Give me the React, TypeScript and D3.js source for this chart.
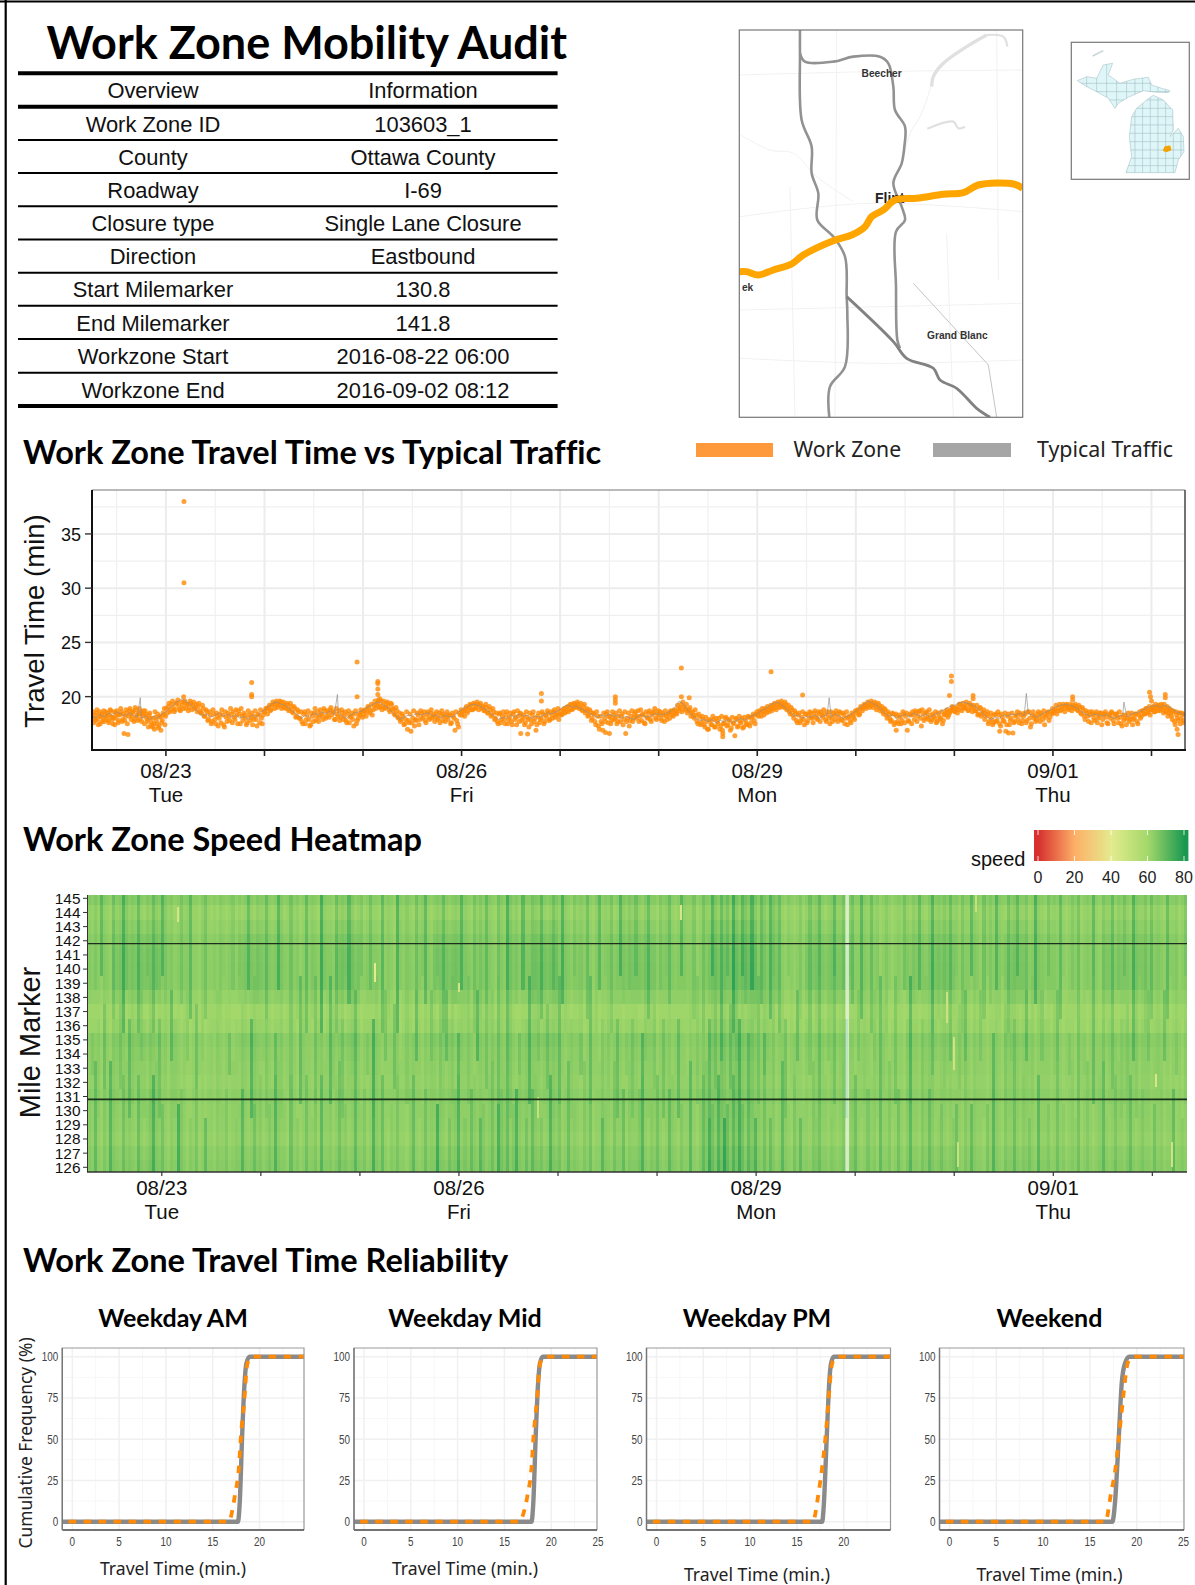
import React from "react";
import * as d3 from "d3";

// ---------- Overview table ----------
const overviewLabels = ["Overview", "Work Zone ID", "County", "Roadway", "Closure type", "Direction", "Start Milemarker", "End Milemarker", "Workzone Start", "Workzone End"];
const overviewValues = ["Information", "103603_1", "Ottawa County", "I-69", "Single Lane Closure", "Eastbound", "130.8", "141.8", "2016-08-22 06:00", "2016-09-02 08:12"];

// ---------- Travel time (days are counted from 08/23 00:00) ----------
const dayTicks = [0, 1, 2, 3, 4, 5, 6, 7, 8, 9, 10];
const labelledDays = [{ t: 0, a: "08/23", b: "Tue" }, { t: 3, a: "08/26", b: "Fri" }, { t: 6, a: "08/29", b: "Mon" }, { t: 9, a: "09/01", b: "Thu" }];
const travelMajor = [20, 25, 30, 35];
const travelMinor = [17.5, 22.5, 27.5, 32.5, 37.5];

// typical traffic, one reading per hour from 08/22 06:00
const typicalHourly = [
  18.2, 18.0, 18.4, 18.1, 18.5, 18.3, 18.6, 18.4, 18.2, 18.5, 18.3, 18.1, 18.0, 18.2, 17.9, 18.2, 18.0, 18.4,
  18.6, 19.0, 19.3, 19.6, 19.8, 19.5, 19.3, 18.9, 18.5, 18.2, 18.4, 18.1, 18.3, 18.5, 18.2, 18.4, 18.1, 18.3, 18.0, 18.2, 17.9, 18.3, 18.1, 18.5,
  18.8, 19.1, 19.4, 19.5, 19.3, 19.2, 18.9, 18.6, 18.3, 18.0, 18.3, 18.1, 18.5, 18.3, 18.6, 18.4, 18.7, 18.3, 18.5, 18.2, 18.0, 18.3, 18.5, 18.6,
  18.7, 19.0, 19.2, 19.4, 19.5, 19.2, 19.0, 18.6, 18.2, 17.9, 18.1, 18.3, 18.2, 18.5, 18.3, 18.4, 18.5, 18.2, 18.3, 18.0, 18.3, 18.1, 18.2, 18.5,
  18.8, 19.0, 19.2, 19.3, 19.2, 19.0, 18.8, 18.5, 18.2, 17.9, 18.1, 18.0, 18.3, 18.1, 18.4, 18.2, 18.3, 18.0, 18.2, 18.1, 18.3, 18.5, 18.4, 18.6,
  18.8, 19.1, 19.2, 19.0, 19.1, 18.9, 18.7, 18.5, 18.3, 18.1, 18.3, 18.2, 18.4, 18.2, 18.3, 18.0, 18.2, 18.0, 17.9, 18.2, 18.3, 18.1, 18.2, 18.4,
  18.4, 18.3, 18.5, 18.7, 19.0, 19.6, 19.3, 18.8, 18.3, 18.0, 17.8, 17.9, 17.7, 17.9, 17.6, 17.8, 17.7, 17.9, 17.6, 17.8, 18.0, 17.8, 18.1, 18.3,
  18.4, 18.7, 18.9, 19.2, 19.4, 19.5, 19.2, 18.9, 18.5, 18.2, 18.3, 18.0, 18.2, 18.1, 18.3, 18.0, 18.2, 18.3, 18.1, 18.4, 18.2, 18.0, 18.2, 18.4,
  18.7, 19.0, 19.3, 19.6, 19.4, 19.2, 18.9, 18.5, 18.2, 18.3, 18.0, 18.2, 18.4, 18.1, 18.5, 18.3, 18.2, 18.4, 18.1, 18.3, 18.5, 18.7, 18.9, 19.1,
  19.2, 19.4, 19.5, 19.4, 19.3, 19.1, 18.8, 18.4, 18.1, 17.9, 18.1, 18.0, 18.3, 18.2, 18.4, 18.3, 18.5, 18.2, 18.4, 18.3, 18.1, 18.3, 18.5, 18.7,
  18.9, 19.1, 19.2, 19.3, 19.2, 19.1, 18.9, 18.6, 18.4, 18.2, 18.4, 18.3, 18.2, 18.4, 18.1, 18.0, 18.2, 18.3, 18.1, 18.4, 18.5, 18.6, 18.8, 19.0,
  19.1, 19.2, 19.0, 19.2, 19.1, 18.9, 18.6, 18.5, 18.3,
];
const typicalSpikes = [[-0.26, 19.9], [1.74, 20.2], [6.73, 19.9], [8.73, 20.3], [9.72, 19.5]];

// work zone readings, grouped by calendar day
const wzAug22 = [18.1, 17.6, 18.3, 18.5, 17.9, 18.2, 17.5, 18.4, 18.0, 17.7, 18.6, 18.2, 17.8, 18.3, 18.7, 17.9, 18.1, 17.4, 18.5, 18.3, 17.8, 18.4, 18.6, 17.9, 16.6, 18.2, 18.5, 16.5, 18.7, 18.4, 18.2, 18.6, 17.9, 18.8, 18.3, 18.5, 17.9, 18.6, 18.2, 18.4, 18.7, 18.1, 17.7, 18.3, 18.0, 17.6, 17.2, 17.0, 18.1, 17.5, 17.1, 18.2, 16.9, 17.8, 18.3, 17.4];
const wzAug23 = [18.9, 19.1, 18.6, 19.3, 19.0, 18.8, 19.4, 19.1, 18.7, 19.2, 19.5, 18.9, 19.3, 19.0, 19.4, 19.2, 18.9, 19.3, 19.1, 18.7, 18.5, 18.9, 18.2, 18.6, 17.9, 18.3, 17.7, 18.4, 17.5, 18.2, 18.0, 17.6, 18.3, 17.2, 18.1, 18.5, 17.8, 18.4, 18.6, 17.9, 18.3, 18.7, 17.5, 18.2, 18.5, 18.0, 17.6, 18.3, 18.1, 17.4, 18.2, 17.9, 18.4, 17.6, 18.0, 18.3];
const wzAug24 = [18.6, 18.9, 19.0, 18.7, 19.2, 19.3, 19.4, 19.0, 19.3, 19.5, 19.1, 19.3, 18.9, 19.2, 18.8, 19.1, 18.5, 18.9, 18.2, 18.6, 18.0, 17.7, 18.4, 17.5, 18.3, 17.9, 17.4, 18.2, 18.5, 17.8, 18.6, 18.1, 18.4, 17.9, 18.7, 18.2, 18.5, 18.8, 18.3, 18.6, 17.9, 18.4, 18.7, 18.1, 18.5, 18.2, 17.8, 18.4, 17.6, 18.2, 17.9, 18.4, 17.5, 18.0, 18.3, 18.6];
const wzAug25 = [18.4, 18.8, 18.6, 19.0, 18.7, 18.3, 19.2, 18.9, 19.4, 19.0, 19.6, 19.2, 18.9, 19.4, 19.1, 18.6, 19.3, 18.8, 18.3, 18.7, 18.0, 17.7, 18.4, 17.4, 17.9, 17.0, 17.6, 16.8, 18.0, 17.3, 17.8, 18.3, 17.9, 18.5, 18.2, 17.8, 18.4, 18.1, 18.5, 18.0, 18.4, 18.2, 17.9, 18.5, 18.3, 17.8, 18.4, 18.1, 17.9, 18.3, 17.6, 18.2, 16.9, 17.8, 17.2, 18.3];
const wzAug26 = [18.3, 18.7, 18.9, 18.5, 19.0, 19.2, 18.8, 19.3, 19.0, 19.3, 19.2, 18.9, 19.1, 18.7, 19.0, 18.5, 18.8, 18.3, 18.6, 18.0, 17.7, 18.4, 17.6, 18.2, 17.9, 18.3, 17.5, 18.1, 17.7, 18.4, 17.9, 17.4, 18.2, 18.5, 17.8, 18.3, 17.6, 18.1, 17.2, 17.9, 18.3, 17.7, 16.9, 18.2, 17.6, 18.0, 18.4, 17.7, 18.1, 18.5, 17.9, 18.3, 18.6, 18.1, 18.5, 17.9];
const wzAug27 = [18.7, 18.4, 18.9, 18.6, 19.1, 18.8, 19.2, 18.9, 19.3, 19.1, 19.3, 19.0, 18.8, 19.1, 18.5, 18.9, 18.3, 18.6, 18.0, 18.4, 17.4, 18.2, 17.0, 17.7, 16.9, 18.0, 18.4, 17.6, 18.1, 17.8, 18.3, 18.0, 17.5, 18.2, 17.7, 18.4, 17.9, 16.6, 18.0, 17.3, 18.2, 17.7, 18.4, 18.0, 18.7, 18.2, 17.8, 18.3, 17.5, 18.1, 18.5, 17.9, 18.3, 18.6, 18.0, 18.4];
const wzAug28 = [18.3, 18.0, 18.5, 17.7, 18.2, 18.4, 18.0, 18.6, 18.2, 18.7, 18.4, 18.9, 19.0, 18.6, 19.1, 18.9, 18.5, 18.8, 18.2, 18.6, 18.0, 18.3, 17.5, 18.1, 17.6, 17.9, 17.2, 17.7, 17.0, 17.8, 17.4, 17.9, 17.2, 17.7, 18.0, 17.3, 16.9, 17.6, 18.1, 17.4, 17.8, 17.1, 17.6, 16.4, 17.9, 17.3, 17.7, 18.0, 17.2, 17.8, 17.4, 18.1, 17.6, 18.2, 17.8, 18.3];
const wzAug29 = [18.4, 18.7, 18.2, 18.6, 18.9, 18.5, 18.8, 19.0, 18.7, 19.2, 19.0, 19.3, 19.1, 19.4, 19.2, 19.0, 19.3, 18.9, 18.6, 19.0, 18.3, 18.7, 17.8, 18.3, 17.6, 18.1, 17.9, 18.4, 17.6, 18.2, 18.5, 18.0, 18.5, 18.2, 17.9, 18.4, 18.6, 18.1, 18.4, 17.7, 18.3, 17.5, 18.1, 18.5, 17.9, 18.4, 18.1, 18.5, 17.8, 18.3, 18.0, 17.4, 18.2, 17.6, 18.3, 17.9];
const wzAug30 = [18.5, 18.8, 18.4, 18.9, 19.0, 19.2, 19.1, 19.3, 19.2, 19.4, 19.2, 19.3, 19.0, 19.2, 18.9, 18.6, 18.9, 18.3, 18.6, 18.0, 17.8, 18.4, 17.6, 18.2, 17.5, 18.1, 17.8, 18.4, 18.2, 16.9, 17.7, 18.3, 18.6, 17.9, 18.5, 18.2, 18.7, 17.3, 18.4, 18.0, 18.6, 17.9, 18.3, 17.9, 18.2, 18.6, 17.7, 18.2, 18.0, 17.5, 18.3, 18.6, 18.1, 18.5, 18.8, 19.0];
const wzAug31 = [18.6, 19.0, 18.8, 19.3, 18.7, 19.1, 18.9, 19.2, 18.8, 19.2, 18.6, 19.0, 18.7, 18.3, 18.9, 18.2, 18.6, 17.9, 18.4, 17.5, 18.2, 17.9, 17.6, 18.4, 17.8, 18.3, 17.3, 18.1, 17.7, 16.8, 18.2, 17.4, 18.0, 16.65, 17.7, 18.3, 17.9, 18.5, 17.5, 18.2, 18.4, 17.8, 18.6, 17.2, 18.3, 18.0, 17.7, 18.4, 18.1, 18.5, 17.9, 17.4, 18.3, 18.6, 18.1, 18.4];
const wzSep01 = [18.5, 18.8, 18.4, 19.0, 18.7, 19.1, 18.9, 19.2, 19.0, 18.8, 19.1, 19.2, 18.9, 19.1, 18.7, 19.0, 18.4, 18.8, 17.9, 18.5, 17.7, 18.3, 18.6, 18.0, 18.4, 17.6, 18.2, 18.5, 17.9, 18.4, 18.1, 17.5, 18.3, 18.6, 17.8, 18.2, 18.4, 17.6, 18.1, 17.3, 17.8, 18.3, 18.0, 17.7, 18.2, 17.4, 18.0, 18.4, 17.5, 18.6, 18.2, 18.7, 18.4, 18.9, 18.6, 18.3];
const wzSep02 = [18.8, 19.1, 18.6, 19.0, 18.7, 19.2, 18.9, 19.1, 18.5, 19.0, 18.7, 18.2, 18.9, 18.4, 17.9, 18.6, 17.4, 18.3, 17.8, 18.5, 18.0, 18.4, 17.6];
// the second half-hourly reading of each day, staggered by a quarter hour
const wzLateAug22 = [18.6, 18.0, 17.8, 18.8, 17.4, 18.6, 18.2, 17.7, 18.7, 18.3, 17.9, 18.5, 17.6, 18.8, 18.1, 17.5, 18.6, 18.0, 18.7, 17.6, 18.3, 18.9, 17.7, 18.4, 17.8, 18.8, 17.5, 18.2, 18.9, 17.9, 18.6, 17.7, 19.0, 18.2, 17.8, 18.9, 18.4, 17.7, 18.7, 17.5, 18.4, 17.9, 17.2, 18.5, 17.3, 18.0, 17.5, 18.6, 17.8, 18.4, 17.3, 18.1, 17.6, 18.5, 18.9, 18.2];
const wzLateAug23 = [18.5, 19.4, 18.8, 19.6, 18.6, 19.4, 19.7, 18.8, 19.5, 18.9, 19.6, 19.3, 18.7, 19.6, 18.8, 19.5, 19.0, 18.6, 19.4, 18.5, 19.2, 18.2, 18.8, 17.8, 18.6, 17.5, 18.8, 17.9, 18.5, 17.3, 18.4, 18.8, 17.4, 18.6, 17.7, 18.2, 18.9, 17.6, 18.1, 18.8, 17.5, 18.4, 18.9, 17.8, 18.3, 17.4, 18.7, 17.8, 18.5, 17.9, 18.7, 17.3, 18.3, 18.8, 17.5, 18.6];
const wzLateAug24 = [18.9, 18.4, 19.2, 18.8, 19.5, 18.9, 19.6, 19.2, 19.6, 18.9, 19.5, 19.0, 19.4, 18.7, 19.4, 18.6, 19.1, 18.1, 18.8, 18.0, 18.6, 17.5, 18.6, 17.9, 18.7, 17.3, 18.5, 17.7, 18.9, 18.2, 17.7, 18.8, 18.3, 18.9, 18.0, 18.7, 18.1, 19.0, 18.6, 17.9, 18.9, 18.2, 17.8, 18.8, 17.9, 18.6, 17.6, 18.7, 18.1, 18.5, 17.3, 18.7, 17.8, 18.4, 18.8, 18.1];
const wzLateAug25 = [18.7, 18.2, 19.1, 18.5, 19.3, 18.8, 19.6, 19.2, 19.7, 19.1, 18.8, 19.6, 19.0, 19.5, 18.8, 19.4, 18.9, 18.4, 19.0, 18.1, 18.5, 17.9, 18.2, 17.5, 18.6, 17.8, 18.4, 17.6, 18.7, 17.9, 18.5, 17.4, 18.7, 18.0, 18.6, 17.6, 18.6, 17.9, 18.8, 18.2, 17.7, 18.6, 18.0, 17.6, 18.7, 18.2, 17.7, 18.6, 18.3, 17.5, 18.5, 18.0, 18.6, 17.5, 18.5, 18.8];
const wzLateAug26 = [18.6, 18.2, 19.1, 18.7, 19.3, 18.8, 19.4, 18.9, 19.5, 18.8, 19.4, 19.0, 18.7, 19.3, 18.5, 19.1, 18.2, 18.9, 17.9, 18.5, 17.5, 18.5, 17.9, 18.6, 17.5, 18.6, 17.9, 18.5, 17.4, 18.6, 18.1, 18.7, 17.7, 18.4, 18.0, 17.4, 18.6, 17.9, 18.5, 17.5, 18.6, 18.0, 17.4, 18.5, 17.9, 18.6, 17.5, 18.3, 18.7, 17.8, 18.6, 18.0, 18.8, 18.3, 18.9, 18.3];
const wzLateAug27 = [18.3, 18.8, 18.5, 19.0, 18.6, 19.3, 18.8, 19.4, 19.0, 19.5, 18.9, 19.4, 18.7, 19.3, 18.7, 18.2, 18.8, 17.8, 18.5, 17.7, 18.6, 17.3, 18.2, 17.5, 18.5, 17.7, 18.6, 18.2, 17.5, 18.6, 17.9, 18.5, 17.7, 18.7, 18.2, 17.4, 18.6, 17.7, 18.5, 17.8, 18.7, 18.0, 18.6, 18.2, 17.7, 18.8, 18.4, 17.6, 18.6, 18.0, 18.7, 17.7, 18.5, 18.9, 17.9, 18.7];
const wzLateAug28 = [18.6, 17.8, 18.3, 18.7, 17.9, 18.5, 18.7, 18.3, 18.8, 18.5, 19.2, 18.7, 19.3, 19.5, 18.8, 19.3, 18.7, 19.0, 18.5, 18.2, 18.8, 17.7, 18.4, 17.4, 18.2, 17.4, 18.1, 17.0, 17.9, 17.4, 18.2, 17.2, 18.0, 17.5, 17.0, 18.2, 17.5, 18.0, 17.3, 17.9, 16.9, 18.1, 17.5, 18.0, 17.2, 18.2, 17.6, 17.1, 18.1, 17.5, 18.2, 17.3, 18.0, 18.4, 17.5, 18.6];
const wzLateAug29 = [18.2, 18.6, 18.9, 18.3, 18.7, 19.1, 18.6, 19.2, 18.9, 19.4, 18.8, 19.5, 19.0, 19.6, 19.1, 19.5, 18.8, 19.2, 18.4, 18.8, 18.0, 18.5, 17.6, 18.5, 17.8, 18.6, 17.4, 18.4, 17.8, 18.6, 18.1, 17.6, 18.7, 18.0, 18.6, 17.7, 18.3, 18.8, 17.9, 18.6, 18.0, 18.6, 17.7, 18.3, 18.7, 17.7, 18.6, 17.9, 18.5, 17.5, 18.6, 18.1, 17.8, 18.5, 18.1, 18.7];
const wzLateAug30 = [18.7, 18.3, 19.1, 18.7, 19.3, 18.9, 19.5, 19.0, 19.6, 19.0, 19.5, 18.8, 19.4, 18.7, 19.1, 18.4, 18.8, 18.0, 18.4, 17.7, 18.5, 17.4, 18.4, 17.7, 18.3, 17.5, 18.6, 17.6, 18.5, 17.8, 18.4, 17.5, 18.3, 18.7, 17.7, 18.6, 18.0, 18.8, 17.8, 18.5, 18.1, 18.8, 17.7, 18.4, 18.0, 17.6, 18.5, 17.9, 18.6, 17.8, 18.4, 18.8, 18.3, 18.7, 19.1, 18.7];
const wzLateAug31 = [18.9, 18.5, 19.3, 18.9, 19.4, 19.0, 19.5, 18.7, 19.4, 19.0, 19.2, 18.7, 19.2, 18.4, 19.0, 18.4, 18.8, 18.2, 18.6, 17.7, 18.5, 17.4, 18.3, 17.7, 18.6, 17.5, 18.4, 17.8, 18.5, 17.4, 18.4, 17.8, 18.5, 17.6, 18.2, 18.6, 17.6, 18.3, 17.8, 18.5, 17.6, 18.6, 18.0, 17.5, 18.6, 18.2, 17.9, 18.6, 17.7, 18.3, 18.7, 18.1, 18.5, 17.8, 18.6, 18.9];
const wzLateSep01 = [18.7, 19.2, 18.7, 19.3, 18.8, 19.3, 18.6, 19.3, 18.9, 19.3, 18.7, 19.0, 19.3, 18.8, 19.2, 18.5, 19.0, 18.2, 18.7, 18.2, 18.6, 17.6, 18.4, 17.8, 18.6, 18.0, 18.5, 17.4, 18.3, 18.6, 17.6, 18.4, 18.0, 18.5, 17.5, 18.4, 18.0, 18.6, 17.5, 18.3, 18.0, 17.4, 18.5, 17.9, 18.5, 17.9, 18.4, 17.7, 18.3, 18.0, 18.7, 18.4, 18.9, 18.5, 19.1, 18.8];
const wzLateSep02 = [19.0, 18.6, 19.3, 18.9, 19.2, 18.7, 19.3, 18.8, 19.3, 18.6, 19.1, 18.5, 18.8, 18.2, 18.7, 17.7, 18.6, 18.0, 18.5, 17.5, 18.5, 17.8, 18.3];
const workZoneDays = [wzAug22, wzAug23, wzAug24, wzAug25, wzAug26, wzAug27, wzAug28, wzAug29, wzAug30, wzAug31, wzSep01, wzSep02];
const workZoneLateDays = [wzLateAug22, wzLateAug23, wzLateAug24, wzLateAug25, wzLateAug26, wzLateAug27, wzLateAug28, wzLateAug29, wzLateAug30, wzLateAug31, wzLateSep01, wzLateSep02];
const workZoneDayStart = [-0.75, 0, 1, 2, 3, 4, 5, 6, 7, 8, 9, 10];
const workZoneDayEnd = [0, 1, 2, 3, 4, 5, 6, 7, 8, 9, 10, 10.34];
const workZoneOutliers = [
  [0.183, 38], [0.183, 30.5], [0.87, 21.3], [0.87, 20.2], [0.87, 20.0], [0.18, 20.0], [1.94, 23.2], [1.94, 20.0], [2.15, 21.4], [2.15, 21.2], [2.15, 20.7], [2.15, 20.2], [2.17, 19.8],
  [3.81, 20.3], [3.81, 19.6], [4.56, 20.0], [4.56, 19.7], [4.56, 19.4], [5.23, 22.65], [5.23, 20.0], [5.31, 19.9], [6.14, 22.3], [6.46, 20.15], [7.97, 21.9], [7.97, 21.4], [7.95, 20.1],
  [8.19, 20.1], [8.19, 19.8], [9.2, 20.0], [9.2, 19.7], [9.98, 20.4], [9.99, 20.0], [10.0, 19.6], [10.14, 20.2], [10.14, 19.9], [10.26, 17.0], [10.27, 16.5], [8.55, 16.65], [8.46, 16.8], [7.41, 16.9],
  [5.65, 16.3], [5.65, 16.6], [3.67, 16.55], [3.6, 16.6], [4.5, 16.6], [4.46, 16.7],
];

// ---------- Heatmap ----------
const mileMarkers = [145, 144, 143, 142, 141, 140, 139, 138, 137, 136, 135, 134, 133, 132, 131, 130, 129, 128, 127, 126];
const mileOffset = [1.5, -0.5, 0, 1, 1, 1, 1, 0, -1.5, -1, 1, 0.5, 0.5, 0, 1, 0.5, 0.5, 0, 1, 1.5];
const mileNightWeight = [0.25, 0.1, 0.45, 0.75, 0.9, 1, 1, 0.55, 0.1, 0.3, 0.6, 0.4, 0.2, 0.25, 0.3, 0.3, 0.15, 0.1, 0.25, 0.35];
const nightDarkening = [1, 5, 7, 2, 0, 2, 6, 4, 1, 3, 7, 3, 0, 2, 7, 3, 1, 4, 8, 3, 1, 4, 6, 3, 1, 7, 8, 3, 1, 5, 5, 1, 0, 4, 6, 2, 1, 6, 3, 1, 1, 5, 5, 2, 1];
// mile 145 to 138
const speedUpperMiles = [
  63, 62, 64, 62, 69, 63, 62, 61, 66, 62, 63, 71, 64, 62, 63, 62, 68, 62, 61, 63, 62, 67, 63, 62, 70, 64, 62, 63, 61, 62, 65, 62, 63, 69, 62, 62, 61, 63, 66, 62,
  61, 62, 61, 63, 62, 61, 62, 64, 61, 62, 61, 62, 68, 62, 61, 63, 62, 62, 67, 62, 61, 62, 70, 63, 61, 62, 66, 62, 63, 61, 62, 68, 62, 63, 62, 61, 72, 63, 62, 62,
  61, 66, 62, 63, 62, 69, 63, 61, 62, 64, 61, 62, 66, 62, 62, 61, 68, 62, 63, 62, 61, 71, 63, 62, 64, 62, 61, 66, 62, 63, 69, 62, 61, 62, 63, 62, 67, 62, 61, 62,
  63, 62, 70, 63, 62, 61, 65, 62, 64, 62, 68, 63, 62, 61, 66, 63, 62, 72, 64, 62, 63, 61, 69, 62, 62, 65, 63, 62, 68, 62, 61, 62, 66, 63, 62, 71, 63, 62, 61, 64,
  62, 63, 62, 67, 62, 61, 63, 69, 62, 63, 62, 65, 61, 62, 70, 63, 62, 64, 62, 66, 62, 61, 63, 68, 62, 62, 61, 64, 62, 63, 67, 62, 61, 62, 69, 63, 62, 62, 65, 61,
  62, 66, 63, 62, 70, 64, 62, 68, 63, 66, 62, 72, 64, 62, 69, 65, 63, 71, 64, 62, 68, 64, 62, 70, 65, 63, 67, 62, 61, 63, 62, 61, 62, 64, 61, 62, 66, 62, 63, 68,
  62, 61, 62, 63, 69, 62, 62, 65, 61, 63, 66, 62, 62, 70, 63, 62, 67, 62, 63, 61, 62, 64, 62, 61, 62, 63, 62, 66, 62, 61, 63, 62, 68, 62, 61, 63, 70, 62, 63, 62,
  64, 62, 67, 62, 63, 61, 65, 62, 62, 69, 63, 62, 61, 66, 62, 64, 62, 70, 63, 62, 61, 66, 62, 63, 68, 62, 62, 64, 61, 62, 71, 63, 62, 61, 65, 62, 63, 62, 68, 62,
  61, 62, 64, 62, 66, 61, 62, 63, 62, 69, 62, 61, 64, 62, 62, 67, 61, 63, 62, 65, 62, 61, 70, 63, 62, 62, 64, 61, 66, 62, 63, 62, 61, 68, 62, 62, 63, 61, 62, 65,
];
// mile 137 to 132
const speedMiddleMiles = [
  62, 64, 62, 63, 61, 67, 62, 61, 63, 62, 65, 62, 61, 68, 63, 62, 62, 64, 62, 61, 63, 62, 61, 66, 62, 63, 61, 69, 63, 62, 61, 62, 64, 61, 62, 67, 62, 63, 61, 62,
  62, 61, 63, 62, 61, 62, 66, 61, 62, 61, 63, 62, 61, 70, 63, 62, 61, 62, 64, 62, 61, 67, 62, 63, 61, 62, 65, 62, 61, 68, 63, 62, 62, 61, 66, 62, 63, 61, 62, 69,
  63, 61, 62, 65, 61, 62, 63, 68, 62, 61, 62, 64, 62, 72, 63, 62, 61, 66, 62, 62, 67, 63, 61, 62, 64, 62, 63, 69, 62, 61, 63, 62, 66, 62, 61, 64, 62, 67, 62, 63,
  61, 68, 63, 62, 64, 62, 61, 70, 63, 62, 66, 62, 64, 62, 67, 63, 62, 69, 64, 62, 61, 65, 62, 63, 70, 63, 62, 64, 61, 62, 66, 62, 63, 62, 68, 62, 61, 62, 63, 62,
  62, 65, 61, 62, 68, 62, 62, 61, 64, 62, 63, 61, 62, 67, 62, 61, 63, 62, 65, 62, 61, 69, 63, 62, 62, 64, 61, 62, 66, 62, 63, 61, 62, 68, 62, 62, 61, 63, 62, 64,
  62, 64, 62, 68, 63, 66, 62, 70, 64, 62, 67, 63, 65, 71, 63, 62, 68, 64, 62, 66, 62, 69, 63, 62, 64, 61, 62, 63, 66, 61, 62, 63, 68, 62, 61, 62, 64, 61, 62, 67,
  62, 61, 63, 62, 66, 61, 62, 63, 69, 62, 62, 61, 65, 62, 63, 62, 61, 64, 62, 68, 63, 62, 61, 62, 66, 62, 62, 61, 63, 70, 62, 62, 61, 64, 62, 63, 67, 62, 61, 62,
  63, 62, 66, 61, 62, 64, 62, 68, 62, 61, 63, 62, 65, 62, 61, 62, 69, 63, 62, 61, 64, 62, 63, 66, 62, 61, 62, 68, 62, 63, 61, 62, 65, 62, 62, 61, 63, 67, 62, 61,
  62, 64, 62, 61, 66, 62, 63, 61, 62, 68, 62, 62, 64, 61, 62, 66, 62, 61, 63, 62, 64, 62, 69, 63, 61, 62, 62, 65, 61, 62, 63, 62, 67, 62, 61, 62, 64, 62, 61, 63,
];
// mile 131 to 126
const speedLowerMiles = [
  63, 62, 68, 62, 61, 64, 62, 70, 63, 62, 61, 66, 62, 63, 62, 61, 67, 62, 61, 62, 64, 71, 63, 62, 66, 62, 61, 63, 62, 72, 64, 62, 61, 63, 62, 65, 61, 62, 68, 62,
  62, 61, 63, 62, 62, 64, 61, 62, 63, 62, 69, 62, 61, 62, 66, 62, 63, 61, 62, 64, 62, 70, 63, 62, 62, 61, 67, 62, 63, 61, 62, 66, 62, 62, 64, 61, 69, 62, 62, 63,
  61, 62, 66, 62, 63, 61, 62, 68, 62, 62, 64, 61, 62, 71, 63, 62, 67, 62, 61, 63, 62, 65, 62, 62, 61, 63, 68, 62, 61, 62, 66, 62, 63, 62, 72, 63, 62, 61, 65, 62,
  63, 70, 62, 64, 62, 67, 63, 62, 69, 64, 62, 63, 66, 62, 72, 65, 63, 68, 62, 64, 71, 63, 62, 66, 62, 68, 63, 62, 64, 61, 62, 70, 63, 62, 65, 61, 62, 67, 62, 63,
  62, 61, 64, 62, 66, 61, 62, 62, 69, 63, 62, 61, 65, 62, 62, 67, 61, 63, 62, 62, 64, 70, 62, 61, 63, 62, 66, 62, 61, 62, 68, 63, 62, 61, 64, 62, 62, 69, 62, 61,
  63, 68, 64, 72, 66, 63, 70, 65, 74, 67, 63, 69, 64, 72, 66, 62, 68, 64, 70, 63, 62, 66, 62, 67, 63, 61, 62, 69, 63, 62, 61, 65, 62, 68, 62, 62, 61, 64, 63, 66,
  62, 62, 61, 63, 62, 61, 62, 64, 61, 62, 63, 67, 62, 61, 62, 65, 62, 63, 61, 68, 62, 62, 64, 61, 62, 66, 62, 61, 63, 69, 62, 62, 61, 64, 62, 67, 63, 61, 62, 65,
  62, 61, 62, 63, 67, 62, 61, 64, 62, 68, 63, 62, 62, 61, 65, 62, 70, 63, 62, 61, 64, 62, 62, 67, 62, 61, 63, 62, 65, 62, 61, 69, 62, 62, 64, 61, 62, 66, 62, 63,
  61, 62, 63, 62, 66, 61, 62, 64, 62, 61, 62, 63, 68, 62, 61, 62, 65, 62, 62, 61, 63, 67, 62, 61, 62, 64, 62, 62, 61, 66, 62, 63, 61, 62, 62, 68, 61, 62, 63, 62,
];
// last upper-mile row and last middle-mile row of each column's streak, column by column in a repeating run of five
const upperRowEnds = [7, 9, 6, 8, 5];
const middleRowEnds = [13, 15, 12, 14, 11];
// pale slow cells: day, upper mile, lower mile, speed
const slowStretches = [
  [2.15, 140.4, 139.1, 40], [3.0, 139, 138.4, 46], [3.8, 131, 129.5, 50], [0.16, 144.4, 143.3, 45], [5.24, 144.5, 143.5, 44],
  [7.93, 138.4, 136.2, 48], [8.0, 135.2, 132.9, 47], [10.2, 127.8, 126, 47], [8.04, 127.8, 126, 50], [8.22, 145.2, 144, 50], [10.04, 132.6, 131.7, 44],
];
const missingDay = 6.92;
const workZoneMiles = [141.8, 130.8];
const speedStops = [0, 20, 40, 60, 80];
const speedColors = ["#d7302f", "#fdb067", "#e3eb8e", "#a3d86a", "#1a9850"];

// ---------- Reliability CDFs ----------
const panelTitles = ["Weekday AM", "Weekday Mid", "Weekday PM", "Weekend"];
const percentTicks = [0, 25, 50, 75, 100];
const panelMinutes = [[0, 5, 10, 15, 20], [0, 5, 10, 15, 20, 25], [0, 5, 10, 15, 20], [0, 5, 10, 15, 20, 25]];
const typicalCdfMin = [
  [-2, 17.7, 17.8, 17.9, 18.15, 18.4, 18.6, 18.95, 26],
  [-2, 17.9, 18.0, 18.1, 18.35, 18.6, 18.8, 19.1, 26],
  [-2, 17.7, 17.8, 17.9, 18.2, 18.45, 18.65, 18.95, 26],
  [-2, 17.4, 17.55, 17.7, 18.1, 18.4, 18.75, 19.2, 26],
];
const typicalCdfPct = [0, 0, 4, 13, 53, 84, 96, 100, 100];
const workZoneCdfMin = [
  [-2, 16.7, 17.4, 17.8, 18.0, 18.4, 18.65, 18.95, 19.3, 26],
  [-2, 16.5, 17.5, 17.9, 18.1, 18.5, 18.75, 19.05, 19.4, 26],
  [-2, 16.7, 17.3, 17.7, 18.05, 18.4, 18.7, 19.0, 19.5, 26],
  [-2, 16.65, 17.25, 17.75, 18.1, 18.55, 18.95, 19.3, 19.8, 26],
];
const workZoneCdfPct = [0, 0, 17, 33, 51, 75, 94, 99, 100, 100];

// ---------- Reference maps ----------
const roadWest = [[240, 30], [240, 100], [245, 300], [275, 380], [275, 460], [295, 520], [292, 600], [340, 650], [375, 710], [380, 830], [382, 880], [375, 1040], [330, 1100], [328, 1192]];
const roadEast = [[240, 100], [255, 125], [340, 125], [400, 110], [480, 110], [505, 130], [520, 200], [525, 270], [555, 320], [553, 380], [545, 430], [520, 490], [545, 560], [555, 600], [528, 635], [528, 800], [532, 960], [540, 985]];
const roadDiagonal = [[380, 830], [520, 965], [560, 1015], [640, 1045], [660, 1080], [710, 1105], [770, 1165], [810, 1192]];
const roadThin = [[580, 790], [805, 1035], [830, 1192]];
const waterLines = [
  [[800, 45], [740, 80], [670, 130], [640, 170], [635, 200]],
  [[800, 45], [850, 50], [862, 80]],
  [[622, 326], [700, 305], [715, 325], [735, 320]],
];
const faintLines = [
  [[62, 345], [150, 390], [220, 400], [290, 470], [400, 545]],
  [[640, 170], [620, 240], [600, 290], [570, 340], [545, 430], [510, 490]],
  [[60, 165], [450, 155], [908, 150]],
  [[60, 590], [450, 550], [908, 575]],
  [[60, 870], [500, 860], [908, 850]],
  [[60, 1015], [480, 1030], [908, 1020]],
  [[350, 30], [345, 1192]],
  [[830, 30], [835, 780]],
  [[210, 500], [225, 1192]],
  [[680, 640], [700, 1192]],
];
const closureRoute = [[58, 755], [80, 755], [115, 765], [160, 750], [215, 732], [250, 705], [340, 662], [395, 645], [435, 620], [455, 590], [490, 570], [525, 540], [590, 535], [670, 523], [730, 518], [775, 495], [880, 492], [908, 505]];
const upperPeninsula = [[1072, 182], [1100, 170], [1130, 175], [1150, 135], [1178, 130], [1165, 165], [1200, 190], [1240, 178], [1285, 172], [1295, 195], [1325, 205], [1350, 212], [1345, 218], [1300, 216], [1270, 212], [1225, 232], [1195, 250], [1185, 265], [1165, 235], [1130, 215], [1100, 200]];
const lowerPeninsula = [[1300, 226], [1330, 240], [1358, 270], [1360, 330], [1350, 350], [1375, 325], [1390, 350], [1392, 395], [1375, 420], [1365, 458], [1218, 458], [1235, 410], [1228, 350], [1235, 290], [1250, 265], [1280, 240]];
const isleRoyale = [[1118, 108], [1150, 92]];
const closureCounty = [[1330, 392], [1335, 380], [1350, 378], [1353, 390], [1340, 395]];
const countyCols = [1100, 1130, 1160, 1190, 1220, 1245, 1268, 1291, 1314, 1337, 1360, 1383];
const countyRows = [190, 215, 240, 265, 290, 315, 340, 365, 390, 415, 437];

// ---------- Layout ----------
const SANS = "'Liberation Sans', Arial, sans-serif";
const HEAD = "Lato, 'Open Sans', sans-serif";
const ORANGE = "#ff8a05";
const NOLIG: React.CSSProperties = { fontVariantLigatures: "none" };

const tx = d3.scaleLinear().domain([-0.75, 10.34]).range([92, 1185]);
const ty = d3.scaleLinear().domain([15.08, 39.05]).range([750, 490]);
const hx = d3.scaleLinear().domain([-0.745, 10.35]).range([88, 1187]);
const hy = d3.scaleLinear().domain([145, 126]).range([898.3, 1167.3]);
const speedColor = d3.scaleLinear<string>().domain(speedStops).range(speedColors).clamp(true);
const legendX = d3.scaleLinear().domain([0, 80]).range([1038, 1184]);
const mapX = d3.scaleLinear().domain([58, 908]).range([739.3, 1022.7]);
const mapY = d3.scaleLinear().domain([30, 1192]).range([30, 417.3]);
const insetX = d3.scaleLinear().domain([1054, 1408]).range([1071.3, 1189.3]);
const insetY = d3.scaleLinear().domain([67, 478]).range([42.3, 179.3]);
const mapLine = d3.line<number[]>().x(d => mapX(d[0])).y(d => mapY(d[1])).curve(d3.curveCatmullRom);
const mapLineStraight = d3.line<number[]>().x(d => mapX(d[0])).y(d => mapY(d[1]));
const insetLine = d3.line<number[]>().x(d => insetX(d[0])).y(d => insetY(d[1]));

const typicalSeries = typicalHourly.map((v, i) => [-0.75 + i / 24, v]).concat(typicalSpikes).sort((a, b) => a[0] - b[0]);
const dayPoints = (days: number[][], shift: number) => days.flatMap((vals, d) =>
  vals.map((v, i) => [workZoneDayStart[d] + (workZoneDayEnd[d] - workZoneDayStart[d]) * (i + shift) / vals.length, v]));
const workZonePoints = dayPoints(workZoneDays, 0.25).concat(dayPoints(workZoneLateDays, 0.75)).concat(workZoneOutliers);
const typicalPath = d3.line<number[]>().x(d => tx(d[0])).y(d => ty(d[1]))(typicalSeries) as string;

const columnX = d3.scaleLinear().domain([0, speedUpperMiles.length]).range([88, 1187]);
const cellW = columnX(1) - columnX(0) + 0.4;

const panelRanges = [[62.3, 304], [354, 597], [646.5, 890.5], [939.5, 1184]];
const panelCenters = [173, 465, 757, 1049.5];
const labelBaselines = [1575, 1575, 1581, 1581];

function Cdf({ index }: { index: number }) {
  const [l, r] = panelRanges[index];
  const x = d3.scaleLinear().domain([-1.07, (r - l) / 9.36 - 1.07]).range([l, r]);
  const y = d3.scaleLinear().domain([0, 100]).range([1521.7, 1356.7]);
  const line = d3.line<number[]>().x(d => x(d[0])).y(d => y(d[1])).curve(d3.curveMonotoneX);
  const typ = typicalCdfMin[index].map((m, i) => [m, typicalCdfPct[i]]);
  const wz = workZoneCdfMin[index].map((m, i) => [m, workZoneCdfPct[i]]);
  const major = d3.range(0, 26, 5).filter(v => x(v) <= r);
  const minor = d3.range(2.5, 26, 5).filter(v => x(v) <= r);
  const ymin = [12.5, 37.5, 62.5, 87.5];
  const clip = `cdf${index}`;
  const narrow = "'Liberation Sans', sans-serif";
  return (
    <g>
      <clipPath id={clip}><rect x={l} y={1348} width={r - l} height={182} /></clipPath>
      {ymin.map(v => <line key={v} x1={l} x2={r} y1={y(v)} y2={y(v)} stroke="#f7f7f7" strokeWidth={1} />)}
      {minor.map(v => <line key={v} x1={x(v)} x2={x(v)} y1={1348} y2={1530} stroke="#f7f7f7" strokeWidth={1} />)}
      {percentTicks.map(v => <line key={v} x1={l} x2={r} y1={y(v)} y2={y(v)} stroke="#f0f0f0" strokeWidth={1.5} />)}
      {major.map(v => <line key={v} x1={x(v)} x2={x(v)} y1={1348} y2={1530} stroke="#f0f0f0" strokeWidth={1.5} />)}
      <g clipPath={`url(#${clip})`}>
        <path d={line(typ) as string} fill="none" stroke="#8a8a8a" strokeWidth={4.4} />
        <path d={line(wz) as string} fill="none" stroke={ORANGE} strokeWidth={3.8} strokeDasharray="7.5 7.5" />
      </g>
      <path d={`M${l},1530V1348H${r}V1530`} fill="none" stroke="#9a9a9a" strokeWidth={1.2} />
      <line x1={l} x2={r} y1={1530} y2={1530} stroke="#444" strokeWidth={1.5} />
      <line x1={l} x2={l} y1={1348} y2={1530} stroke="#777" strokeWidth={1.4} />
      {percentTicks.map(v => (
        <text key={v} x={l - 4} y={y(v) + 4.5} textAnchor="end" fontFamily={narrow} fontSize={12.5} fill="#444" textLength={String(v).length * 5.5} lengthAdjust="spacingAndGlyphs">{v}</text>
      ))}
      {panelMinutes[index].map(v => (
        <text key={v} x={x(v)} y={1546} textAnchor="middle" fontFamily={narrow} fontSize={12.5} fill="#444" textLength={String(v).length * 5.5} lengthAdjust="spacingAndGlyphs">{v}</text>
      ))}
      <text x={panelCenters[index]} y={labelBaselines[index]} textAnchor="middle" fontFamily="'Noto Sans', sans-serif" fontSize={17.6} fill="#222">Travel Time (min.)</text>
    </g>
  );
}

export default function App() {
  const tableY = [73.3, 106.7, 140, 173, 206.3, 239.5, 272.7, 305.7, 339, 372.7, 406];
  const heavy = new Set([0, 1, 10]);
  return (
    <svg width={1195} height={1585} viewBox="0 0 1195 1585" style={{ position: "absolute", left: 0, top: 0, background: "#fff" }}>
      <defs>
        <clipPath id="travelClip"><rect x={92} y={490} width={1093} height={260} /></clipPath>
        <clipPath id="heatClip"><rect x={88} y={895} width={1099} height={277} /></clipPath>
        <clipPath id="mapClip"><rect x={739.3} y={30} width={283.4} height={387.3} /></clipPath>
        <clipPath id="stateClip">
          <path d={(insetLine(upperPeninsula) as string) + "Z" + (insetLine(lowerPeninsula) as string) + "Z"} />
        </clipPath>
        <filter id="soft" x="0" y="0" width="100%" height="100%"><feGaussianBlur stdDeviation="0.5" /></filter>
      </defs>

      {/* page frame */}
      <line x1={0} x2={1195} y1={1.5} y2={1.5} stroke="#000" strokeWidth={2} />
      <line x1={5.7} x2={5.7} y1={0} y2={1585} stroke="#000" strokeWidth={2.2} />

      {/* title and table */}
      <text x={46.5} y={58.5} fontFamily={HEAD} fontWeight={700} fontSize={45} fill="#000" style={NOLIG}>Work Zone Mobility Audit</text>
      {tableY.map((y, i) => <line key={i} x1={18} x2={557.6} y1={y} y2={y} stroke="#000" strokeWidth={heavy.has(i) ? 4 : 2} />)}
      {overviewLabels.map((s, i) => <text key={s} x={153} y={(tableY[i] + tableY[i + 1]) / 2 + 8.2} textAnchor="middle" fontFamily={SANS} fontSize={21.9} fill="#111">{s}</text>)}
      {overviewValues.map((s, i) => <text key={s} x={423} y={(tableY[i] + tableY[i + 1]) / 2 + 8.2} textAnchor="middle" fontFamily={SANS} fontSize={21.9} fill="#111">{s}</text>)}

      {/* locator map */}
      <g clipPath="url(#mapClip)">
        {faintLines.map((p, i) => <path key={i} d={mapLine(p) as string} fill="none" stroke="#f1f1f1" strokeWidth={1} />)}
        {waterLines.map((p, i) => <path key={i} d={mapLine(p) as string} fill="none" stroke="#e0e0e0" strokeWidth={i === 0 ? 3.4 : 2.2} />)}
        <path d={mapLineStraight(roadThin) as string} fill="none" stroke="#c4c4c4" strokeWidth={1} />
        <path d={mapLine(roadWest) as string} fill="none" stroke="#929292" strokeWidth={2.6} />
        <path d={mapLine(roadEast) as string} fill="none" stroke="#929292" strokeWidth={2.6} />
        <path d={mapLine(roadDiagonal) as string} fill="none" stroke="#828282" strokeWidth={2.8} />
        <text x={mapX(465)} y={mapY(548)} fontFamily={SANS} fontWeight={700} fontSize={14} fill="#222">Flint</text>
        <path d={mapLine(closureRoute) as string} fill="none" stroke="#ffa500" strokeWidth={7} />
        <text x={mapX(485)} y={mapY(170)} textAnchor="middle" fontFamily={SANS} fontWeight={700} fontSize={10.2} fill="#333">Beecher</text>
        <text x={mapX(712)} y={mapY(958)} textAnchor="middle" fontFamily={SANS} fontWeight={700} fontSize={10.2} fill="#333">Grand Blanc</text>
        <text x={mapX(100)} y={mapY(814)} textAnchor="end" fontFamily={SANS} fontWeight={700} fontSize={10.2} fill="#333">ek</text>
      </g>
      <rect x={739.3} y={30} width={283.4} height={387.3} fill="none" stroke="#777" strokeWidth={1.2} />

      {/* state inset */}
      <path d={(insetLine(upperPeninsula) as string) + "Z"} fill="#dff6f8" stroke="#a9c4c9" strokeWidth={0.6} />
      <path d={(insetLine(lowerPeninsula) as string) + "Z"} fill="#dff6f8" stroke="#a9c4c9" strokeWidth={0.6} />
      <g clipPath="url(#stateClip)">
        {countyCols.map(v => <line key={v} x1={insetX(v)} x2={insetX(v)} y1={insetY(67)} y2={insetY(478)} stroke="#9dbcc2" strokeWidth={0.55} />)}
        {countyRows.map(v => <line key={v} x1={insetX(1054)} x2={insetX(1408)} y1={insetY(v)} y2={insetY(v)} stroke="#9dbcc2" strokeWidth={0.55} />)}
      </g>
      <path d={insetLine(isleRoyale) as string} fill="none" stroke="#c9d4d6" strokeWidth={1.6} />
      <path d={(insetLine(closureCounty) as string) + "Z"} fill="#f5a200" stroke="#f5a200" strokeWidth={1} />
      <rect x={1071.3} y={42.3} width={118} height={137} fill="none" stroke="#777" strokeWidth={1.2} />

      {/* travel time */}
      <text x={23} y={464} fontFamily={HEAD} fontWeight={700} fontSize={32.5} fill="#000" style={NOLIG}>Work Zone Travel Time vs Typical Traffic</text>
      <rect x={696} y={443} width={77} height={14} fill="#ff9a3c" />
      <rect x={933} y={443} width={78} height={14} fill="#a6a6a6" />
      <text x={793.5} y={457} fontFamily="'Noto Sans', sans-serif" fontSize={21.2} fill="#222">Work Zone</text>
      <text x={1037} y={457} fontFamily="'Noto Sans', sans-serif" fontSize={21.4} fill="#222" style={NOLIG}>Typical Traffic</text>

      {travelMinor.map(v => <line key={v} x1={92} x2={1185} y1={ty(v)} y2={ty(v)} stroke="#f0f0f0" strokeWidth={1.2} />)}
      {d3.range(-0.5, 10.5, 1).map(v => <line key={v} x1={tx(v)} x2={tx(v)} y1={490} y2={750} stroke="#f0f0f0" strokeWidth={1.2} />)}
      {travelMajor.map(v => <line key={v} x1={92} x2={1185} y1={ty(v)} y2={ty(v)} stroke="#ececec" strokeWidth={2} />)}
      {dayTicks.map(v => <line key={v} x1={tx(v)} x2={tx(v)} y1={490} y2={750} stroke="#ececec" strokeWidth={2} />)}
      <g clipPath="url(#travelClip)">
        {workZonePoints.map((d, i) => <circle key={i} cx={tx(d[0])} cy={ty(d[1])} r={2.5} fill={ORANGE} fillOpacity={0.8} />)}
        <path d={typicalPath} fill="none" stroke="#8f8f8f" strokeWidth={0.9} strokeOpacity={0.75} />
      </g>
      <line x1={92} x2={1185} y1={490} y2={490} stroke="#777" strokeWidth={1.2} />
      <line x1={1185} x2={1185} y1={490} y2={750} stroke="#444" strokeWidth={1.5} />
      <line x1={92} x2={92} y1={490} y2={751} stroke="#111" strokeWidth={2} />
      <line x1={91} x2={1186} y1={750} y2={750} stroke="#111" strokeWidth={2} />
      {travelMajor.map(v => (
        <g key={v}>
          <line x1={85} x2={92} y1={ty(v)} y2={ty(v)} stroke="#333" strokeWidth={1.4} />
          <text x={81} y={ty(v) + 7} textAnchor="end" fontFamily={SANS} fontSize={18} fill="#111">{v}</text>
        </g>
      ))}
      {dayTicks.map(v => <line key={v} x1={tx(v)} x2={tx(v)} y1={750} y2={756} stroke="#222" strokeWidth={1.6} />)}
      {labelledDays.map(d => (
        <g key={d.a} fontFamily={SANS} fontSize={20.5} fill="#111" textAnchor="middle">
          <text x={tx(d.t)} y={778}>{d.a}</text>
          <text x={tx(d.t)} y={802}>{d.b}</text>
        </g>
      ))}
      <text transform="translate(44,621) rotate(-90)" textAnchor="middle" fontFamily={SANS} fontSize={27.6} fill="#111">Travel Time (min)</text>

      {/* heatmap */}
      <text x={23} y={851} fontFamily={HEAD} fontWeight={700} fontSize={32.5} fill="#000" style={NOLIG}>Work Zone Speed Heatmap</text>
      <text x={971} y={866} fontFamily={SANS} fontSize={20} fill="#111">speed</text>
      {d3.range(1034, 1188, 1).map(px => <rect key={px} x={px} y={830} width={1.4} height={31} fill={speedColor(legendX.invert(px))} />)}
      {speedStops.map(v => (
        <g key={v}>
          <line x1={legendX(v)} x2={legendX(v)} y1={830} y2={835} stroke="#fff" strokeWidth={0.8} />
          <line x1={legendX(v)} x2={legendX(v)} y1={856} y2={861} stroke="#fff" strokeWidth={0.8} />
          <text x={legendX(v)} y={883} textAnchor="middle" fontFamily={SANS} fontSize={16} fill="#222">{v}</text>
        </g>
      ))}
      <g clipPath="url(#heatClip)">
        <g filter="url(#soft)" shapeRendering="crispEdges">
          {speedUpperMiles.map((_, c) => {
            const mid = hx.invert(columnX(c + 0.5));
            const night = nightDarkening[Math.min(nightDarkening.length - 1, Math.max(0, Math.floor((mid + 0.75) / 0.25)))];
            const upperEnd = upperRowEnds[c % upperRowEnds.length];
            const middleEnd = middleRowEnds[(c * 2) % middleRowEnds.length];
            return mileMarkers.map((m, r) => {
              const s = r <= upperEnd ? speedUpperMiles[c] : r <= middleEnd ? speedMiddleMiles[c] : speedLowerMiles[c];
              return (
                <rect key={`${c}-${m}`} x={columnX(c)} y={hy(m + 0.5)} width={cellW} height={hy(m - 0.5) - hy(m + 0.5) + 0.5}
                  fill={speedColor(s + mileOffset[r] + night * 0.5 * mileNightWeight[r])} />
              );
            });
          })}
          {slowStretches.map((d, i) => <rect key={i} x={hx(d[0]) - 1} y={hy(d[1])} width={2.2} height={hy(d[2]) - hy(d[1])} fill={speedColor(d[3])} />)}
        </g>
        <rect x={hx(missingDay) - 1.8} y={895} width={3.6} height={277} fill="#fff" fillOpacity={0.62} />
        {workZoneMiles.map((m, i) => <line key={m} x1={88} x2={1187} y1={hy(m)} y2={hy(m)} stroke={i === 0 ? "#1c2e1c" : "#17301a"} strokeWidth={i === 0 ? 1.4 : 1.8} />)}
      </g>
      <line x1={87.5} x2={87.5} y1={895} y2={1172} stroke="#333" strokeWidth={1} />
      <line x1={87} x2={1187} y1={1172} y2={1172} stroke="#333" strokeWidth={1.4} />
      {mileMarkers.map(m => (
        <g key={m}>
          <line x1={83} x2={87.5} y1={hy(m)} y2={hy(m)} stroke="#333" strokeWidth={1} />
          <text x={80.5} y={hy(m) + 5.4} textAnchor="end" fontFamily={SANS} fontSize={15.4} fill="#111">{m}</text>
        </g>
      ))}
      {dayTicks.map(v => <line key={v} x1={hx(v)} x2={hx(v)} y1={1172} y2={1176} stroke="#333" strokeWidth={1.2} />)}
      {labelledDays.map(d => (
        <g key={d.a} fontFamily={SANS} fontSize={20.5} fill="#111" textAnchor="middle">
          <text x={hx(d.t)} y={1195}>{d.a}</text>
          <text x={hx(d.t)} y={1219}>{d.b}</text>
        </g>
      ))}
      <text transform="translate(40,1042.5) rotate(-90)" textAnchor="middle" fontFamily={SANS} fontSize={29} fill="#111">Mile Marker</text>

      {/* reliability */}
      <text x={23} y={1272} fontFamily={HEAD} fontWeight={700} fontSize={32.6} fill="#000" style={NOLIG}>Work Zone Travel Time Reliability</text>
      {panelTitles.map((s, i) => (
        <text key={s} x={panelCenters[i]} y={1327} textAnchor="middle" fontFamily={HEAD} fontWeight={700} fontSize={25} fill="#000">{s}</text>
      ))}
      {panelTitles.map((s, i) => <Cdf key={s} index={i} />)}
      <text transform="translate(32,1443) rotate(-90)" textAnchor="middle" fontFamily="'Noto Sans', sans-serif" fontSize={17.4} fill="#222">Cumulative Frequency (%)</text>
    </svg>
  );
}
